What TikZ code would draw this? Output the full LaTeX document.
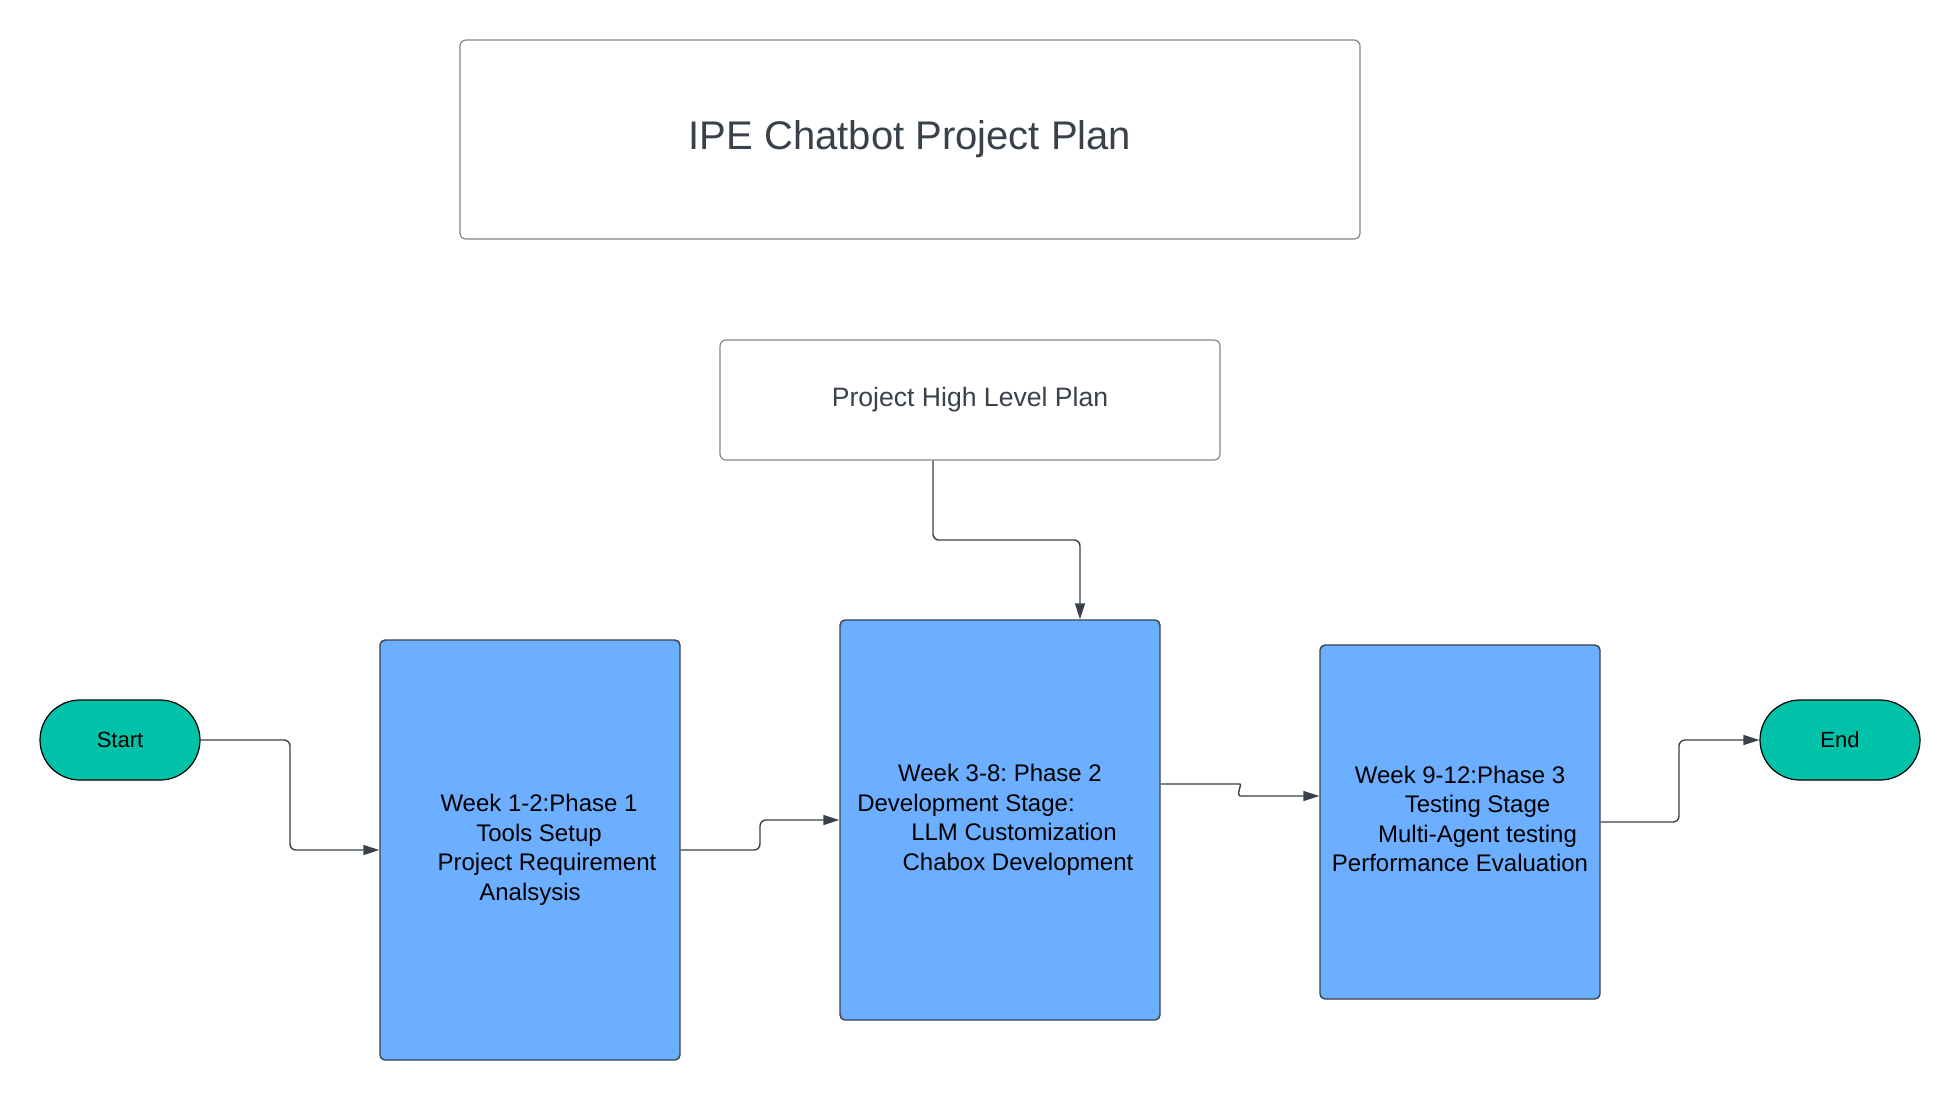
\documentclass[tikz,border=0pt]{standalone}
\usepackage{fontspec}
\setmainfont{Liberation Sans}
\usetikzlibrary{arrows.meta}
\definecolor{phaseblue}{RGB}{108,174,255}
\definecolor{termteal}{RGB}{0,194,168}
\definecolor{inkgray}{RGB}{58,65,74}
\definecolor{framegray}{RGB}{130,134,140}
\frenchspacing
\begin{document}
\begin{tikzpicture}[x=0.5pt,y=-0.5pt,
 plainbox/.style={draw=framegray,line width=0.6pt,rounded corners=3pt,fill=white,text=inkgray,inner sep=0pt},
 phasebox/.style={draw=inkgray,line width=0.7pt,rounded corners=2.5pt,fill=phaseblue,align=center,font=\fontsize{12}{14.75}\selectfont,inner sep=0pt},
 term/.style={draw=black,line width=0.6pt,fill=termteal,rounded corners=20pt,minimum width=80pt,minimum height=40pt,font=\fontsize{11}{13}\selectfont,inner sep=0pt},
 conn/.style={draw=inkgray,line width=0.7pt,rounded corners=3pt,-{Triangle[length=8pt,width=5pt]}}]
\useasboundingbox[fill=white] (0,0) rectangle (1960,1100);

\node[plainbox,minimum width=450pt,minimum height=99.5pt,font=\fontsize{20}{24}\selectfont] (title) at (910,139.5) {IPE Chatbot Project Plan};
\node[plainbox,minimum width=250pt,minimum height=60pt,font=\fontsize{13.3}{16}\selectfont] (hl) at (970,400) {Project High Level Plan};

\node[term] (start) at (120,740) {Start};
\node[term] (end) at (1840,740) {End};

\node[phasebox,minimum width=150pt,minimum height=210pt] (p1) at (530,850)
 {\hspace*{9pt}Week 1-2:Phase 1\\\hspace*{9pt}Tools Setup\\\hspace*{17pt}Project Requirement\\Analsysis};
\node[phasebox,minimum width=160pt,minimum height=200pt] (p2) at (1000,820)
 {Week 3-8: Phase 2\\Development Stage:\hspace*{34pt}\mbox{}\\\hspace*{14pt}LLM Customization\\\hspace*{18pt}Chabox Development};
\node[phasebox,minimum width=140pt,minimum height=177pt] (p3) at (1460,822)
 {\raisebox{0pt}[\height][\depth]{Week 9-12:Phase 3}\\\hspace*{17.5pt}Testing Stage\\\hspace*{17.5pt}Multi-Agent testing\\Performance Evaluation\vspace{3pt}};

\draw[conn] (start.east) -| (290,850) -- (p1.west);
\draw[conn] (p1.east) -| (760,820) -- (p2.west);
\draw[conn] ([xshift=-18.5pt]hl.south) |- (1080,540) -- ([xshift=40pt]p2.north);
\draw[conn] ([yshift=18pt]p2.east) -- (1234,784) .. controls (1242,784) and (1236,796) .. (1246,796) -- ([yshift=13pt]p3.west);
\draw[conn] (p3.east) -| (1679,740) -- (end.west);
\end{tikzpicture}
\end{document}
